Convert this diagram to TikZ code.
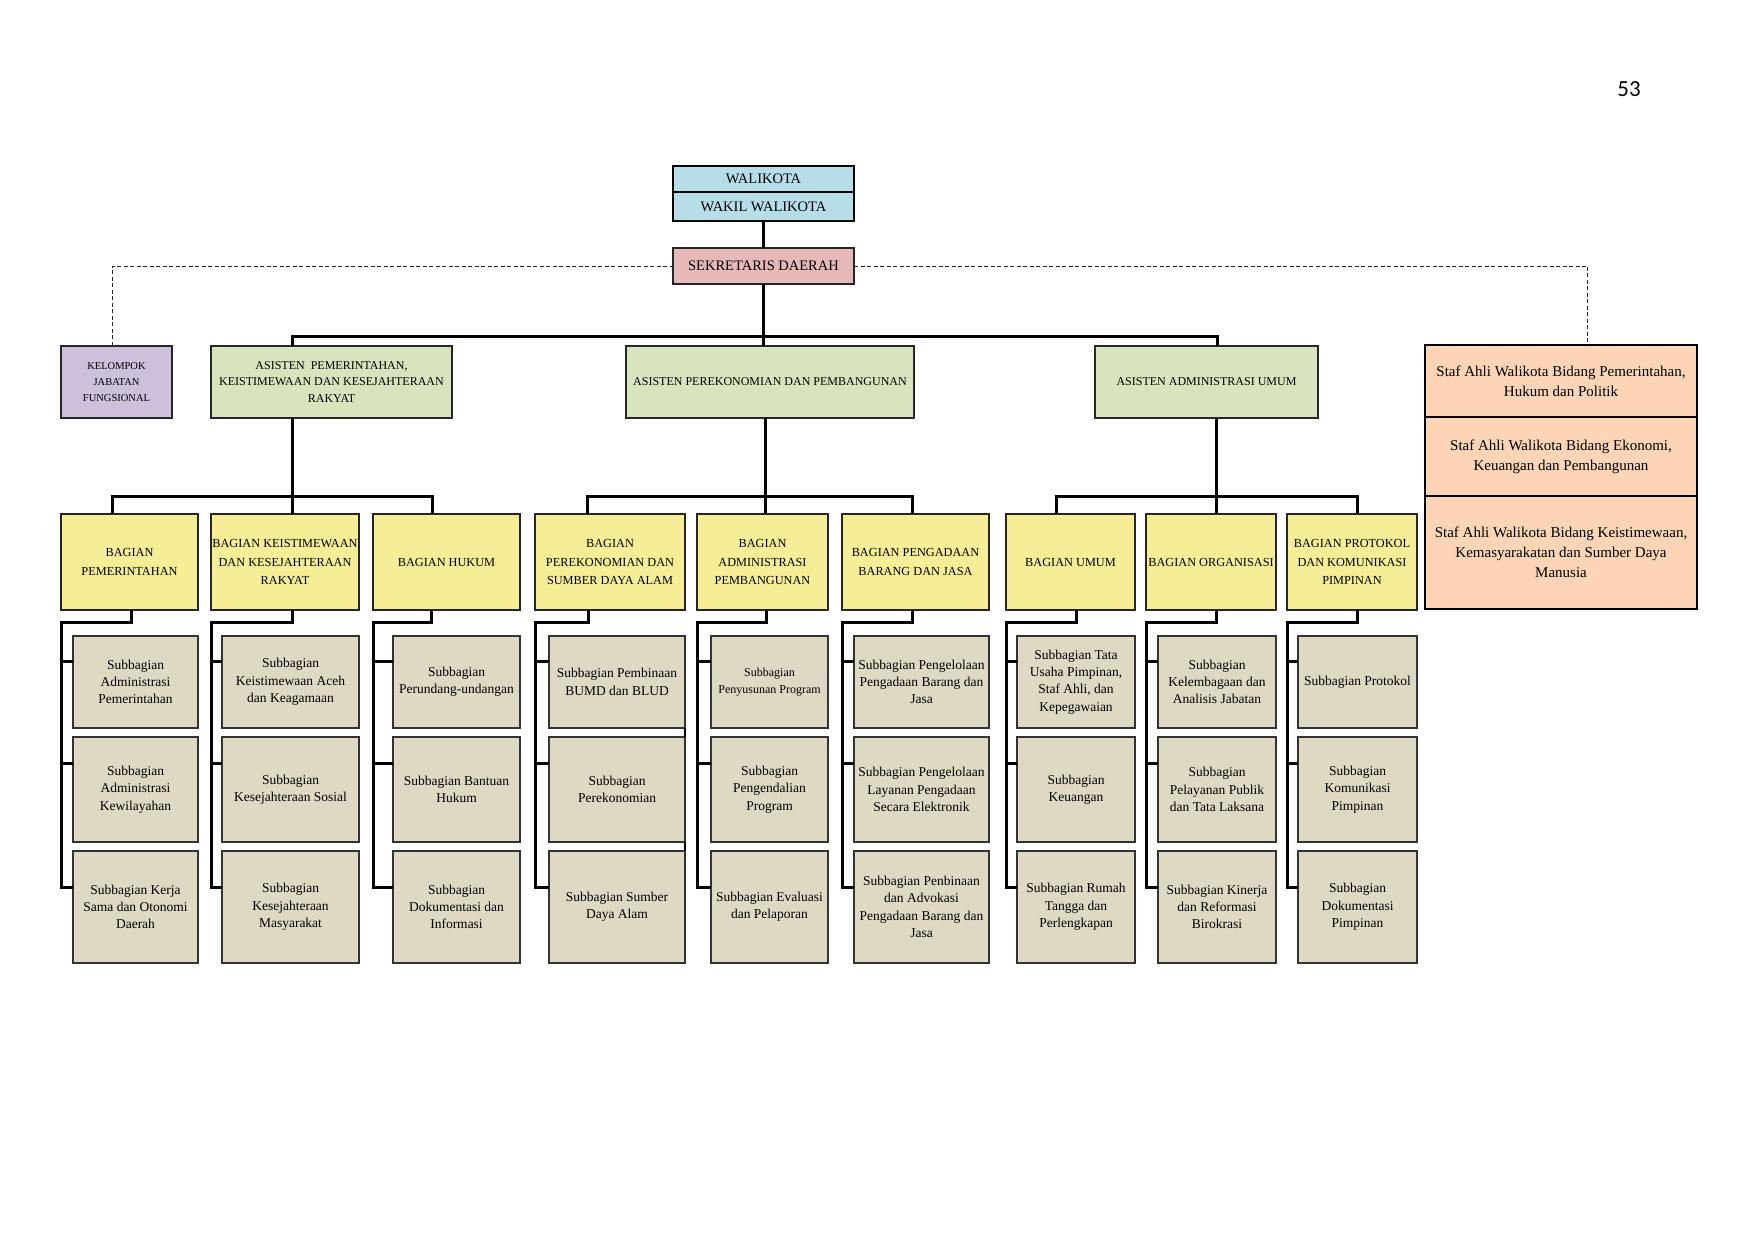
\documentclass[tikz,border=0pt]{standalone}
\usepackage{fontspec}
\setmainfont{Liberation Serif}
\newfontfamily\numfont{Carlito}
\newcommand\myfs[2]{\fontsize{#1}{#2}\selectfont}
\definecolor{cblue}{RGB}{183,221,232}
\definecolor{cpink}{RGB}{230,185,184}
\definecolor{clav}{RGB}{204,192,218}
\definecolor{cgreen}{RGB}{215,228,189}
\definecolor{cyellow}{RGB}{246,238,150}
\definecolor{csub}{RGB}{221,217,195}
\definecolor{cpeach}{RGB}{251,213,181}
\tikzset{
  base/.style={align=center, inner sep=1pt, outer sep=0pt},
  topbox/.style={base, draw=black, fill=cblue, line width=2.4pt, font=\myfs{14.5}{17}},
  sekbox/.style={base, draw=black!85, fill=cpink, line width=1.8pt, font=\myfs{14.5}{17}},
  kjfbox/.style={base, draw=black!85, fill=clav, line width=1.6pt, font=\myfs{10.5}{16}},
  asbox/.style={base, draw=black!85, fill=cgreen, line width=1.6pt, font=\myfs{12}{16.7}},
  bagbox/.style={base, draw=black!85, fill=cyellow, line width=1.6pt, font=\myfs{12.3}{18.6}},
  subbox/.style={base, draw=black!80, fill=csub, line width=1.5pt, font=\myfs{13.5}{17.3}},
  stafbox/.style={base, draw=black, fill=cpeach, line width=2.4pt, font=\myfs{15}{20}},
  conn/.style={line width=3pt, black, line join=miter},
  dashline/.style={line width=0.9pt, black!85, dash pattern=on 4pt off 2.5pt}
}
% #1 style, #2 name, #3 x1, #4 y1, #5 x2, #6 y2, #7 text
\newcommand\obox[7]{\node[#1, minimum width=#5pt-#3pt, minimum height=#6pt-#4pt] (#2) at ({(#3+#5)/2},{(#4+#6)/2}) {#7};}
% #1 bagian, #2 x of down connector, #3 #4 #5 sub boxes
\newcommand\grp[5]{%
  \coordinate (#1d) at (#2,622.7);
  \coordinate (#3b) at ([yshift=-25.7pt]#3.north west);
  \coordinate (#4b) at ([yshift=-26.3pt]#4.north west);
  \coordinate (#5b) at ([yshift=-36.3pt]#5.north west);
  \draw[conn] (#1.south -| #1d) -- (#1d) -- (#1d -| #1.west) -- (#5b -| #1.west) -- (#5b);
  \draw[conn] (#3b -| #1.west) -- (#3b);
  \draw[conn] (#4b -| #1.west) -- (#4b);
}
\begin{document}
\begin{tikzpicture}[x=1pt,y=-1pt]
\fill[white] (0,0) rectangle (1754,1241);
\useasboundingbox (0,0) rectangle (1754,1241);

\node[font=\numfont\myfs{23}{26}] (pg) at (1629,89) {53};

% top
\obox{topbox}{wali}{673}{166}{854}{192}{WALIKOTA}
\obox{topbox}{wakil}{673}{192}{854}{221}{WAKIL WALIKOTA}
\obox{sekbox}{sekda}{673}{248}{854}{284}{SEKRETARIS DAERAH}

% level asisten
\obox{kjfbox}{kjf}{61}{346}{172}{418}{KELOMPOK\\JABATAN\\FUNGSIONAL}
\obox{asbox}{as1}{211}{346}{452}{418}{ASISTEN~ PEMERINTAHAN,\\KEISTIMEWAAN DAN KESEJAHTERAAN\\RAKYAT}
\obox{asbox}{as2}{626}{346}{914}{418}{ASISTEN PEREKONOMIAN DAN PEMBANGUNAN}
\obox{asbox}{as3}{1095}{346}{1318}{418}{ASISTEN ADMINISTRASI UMUM}

% staf ahli
\obox{stafbox}{staf1}{1425}{345}{1697}{417}{Staf Ahli Walikota Bidang Pemerintahan,\\Hukum dan Politik}
\obox{stafbox}{staf2}{1425}{417}{1697}{496}{Staf Ahli Walikota Bidang Ekonomi,\\Keuangan dan Pembangunan}
\obox{stafbox}{staf3}{1425}{496}{1697}{609}{Staf Ahli Walikota Bidang Keistimewaan,\\Kemasyarakatan dan Sumber Daya\\Manusia}

% bagian
\obox{bagbox}{b1}{61}{514}{198}{610}{BAGIAN\\PEMERINTAHAN}
\obox{bagbox}{b2}{211}{514}{359}{610}{BAGIAN KEISTIMEWAAN\\DAN KESEJAHTERAAN\\RAKYAT}
\obox{bagbox}{b3}{373}{514}{520}{610}{BAGIAN HUKUM}
\obox{bagbox}{b4}{535}{514}{685}{610}{BAGIAN\\PEREKONOMIAN DAN\\SUMBER DAYA ALAM}
\obox{bagbox}{b5}{697}{514}{828}{610}{BAGIAN\\ADMINISTRASI\\PEMBANGUNAN}
\obox{bagbox}{b6}{842}{514}{989}{610}{BAGIAN PENGADAAN\\BARANG DAN JASA}
\obox{bagbox}{b7}{1006}{514}{1135}{610}{BAGIAN UMUM}
\obox{bagbox}{b8}{1146}{514}{1276}{610}{BAGIAN ORGANISASI}
\obox{bagbox}{b9}{1287}{514}{1417}{610}{BAGIAN PROTOKOL\\DAN KOMUNIKASI\\PIMPINAN}

% subbagian
\obox{subbox}{c11}{73}{636}{198}{728}{Subbagian\\Administrasi\\Pemerintahan}
\obox{subbox}{c12}{73}{737}{198}{842}{Subbagian\\Administrasi\\Kewilayahan}
\obox{subbox}{c13}{73}{851}{198}{963}{Subbagian Kerja\\Sama dan Otonomi\\Daerah}

\obox{subbox}{c21}{222}{636}{359}{728}{Subbagian\\Keistimewaan Aceh\\dan Keagamaan}
\obox{subbox}{c22}{222}{737}{359}{842}{Subbagian\\Kesejahteraan Sosial}
\obox{subbox}{c23}{222}{851}{359}{963}{Subbagian\\Kesejahteraan\\Masyarakat}

\obox{subbox}{c31}{393}{636}{520}{728}{Subbagian\\Perundang-undangan}
\obox{subbox}{c32}{393}{737}{520}{842}{Subbagian Bantuan\\Hukum}
\obox{subbox}{c33}{393}{851}{520}{963}{Subbagian\\Dokumentasi dan\\Informasi}

\obox{subbox}{c41}{549}{636}{685}{728}{Subbagian Pembinaan\\BUMD dan BLUD}
\obox{subbox}{c42}{549}{737}{685}{842}{Subbagian\\Perekonomian}
\obox{subbox}{c43}{549}{851}{685}{963}{Subbagian Sumber\\Daya Alam}

\obox{subbox, font=\myfs{12}{17}}{c51}{711}{636}{828}{728}{Subbagian\\Penyusunan Program}
\obox{subbox}{c52}{711}{737}{828}{842}{Subbagian\\Pengendalian\\Program}
\obox{subbox}{c53}{711}{851}{828}{963}{Subbagian Evaluasi\\dan Pelaporan}

\obox{subbox}{c61}{854}{636}{989}{728}{Subbagian Pengelolaan\\Pengadaan Barang dan\\Jasa}
\obox{subbox}{c62}{854}{737}{989}{842}{Subbagian Pengelolaan\\Layanan Pengadaan\\Secara Elektronik}
\obox{subbox}{c63}{854}{851}{989}{963}{Subbagian Penbinaan\\dan Advokasi\\Pengadaan Barang dan\\Jasa}

\obox{subbox}{c71}{1017}{636}{1135}{728}{Subbagian Tata\\Usaha Pimpinan,\\Staf Ahli, dan\\Kepegawaian}
\obox{subbox}{c72}{1017}{737}{1135}{842}{Subbagian\\Keuangan}
\obox{subbox}{c73}{1017}{851}{1135}{963}{Subbagian Rumah\\Tangga dan\\Perlengkapan}

\obox{subbox}{c81}{1158}{636}{1276}{728}{Subbagian\\Kelembagaan dan\\Analisis Jabatan}
\obox{subbox}{c82}{1158}{737}{1276}{842}{Subbagian\\Pelayanan Publik\\dan Tata Laksana}
\obox{subbox}{c83}{1158}{851}{1276}{963}{Subbagian Kinerja\\dan Reformasi\\Birokrasi}

\obox{subbox}{c91}{1298}{636}{1417}{728}{Subbagian Protokol}
\obox{subbox}{c92}{1298}{737}{1417}{842}{Subbagian\\Komunikasi\\Pimpinan}
\obox{subbox}{c93}{1298}{851}{1417}{963}{Subbagian\\Dokumentasi\\Pimpinan}

% connectors top
\draw[conn] (wakil.south) -- (sekda.north);
\draw[conn] (sekda.south) -- (as2.north -| sekda.south);
\coordinate (La) at (292.5,336.5);
\coordinate (Lc) at (1217,336.5);
\draw[conn] (as1.north -| La) -- (La) -- (Lc) -- (as3.north -| Lc);

% dashed
\coordinate (dL) at (112.7,266.7);
\coordinate (dR) at (1587.7,266.7);
\draw[dashline] (kjf.north -| dL) |- (sekda.west);
\draw[dashline] (sekda.east) -| (staf1.north -| dR);

% asisten to bagian
\coordinate (t1a) at (112,496);
\coordinate (t1b) at (292.5,496);
\coordinate (t1c) at (432,496);
\draw[conn] (b1.north -| t1a) -- (t1a) -- (t1c) -- (b3.north -| t1c);
\draw[conn] (as1.south -| t1b) -- (b2.north -| t1b);

\coordinate (t2a) at (587.5,496);
\coordinate (t2b) at (765.5,496);
\coordinate (t2c) at (912.7,496);
\draw[conn] (b4.north -| t2a) -- (t2a) -- (t2c) -- (b6.north -| t2c);
\draw[conn] (as2.south -| t2b) -- (b5.north -| t2b);

\coordinate (t3a) at (1056,496);
\coordinate (t3b) at (1216.7,496);
\coordinate (t3c) at (1357.7,496);
\draw[conn] (b7.north -| t3a) -- (t3a) -- (t3c) -- (b9.north -| t3c);
\draw[conn] (as3.south -| t3b) -- (b8.north -| t3b);

% bagian to subbagian
\grp{b1}{131}{c11}{c12}{c13}
\grp{b2}{292.7}{c21}{c22}{c23}
\grp{b3}{431.7}{c31}{c32}{c33}
\grp{b4}{588.3}{c41}{c42}{c43}
\grp{b5}{766}{c51}{c52}{c53}
\grp{b6}{912.7}{c61}{c62}{c63}
\grp{b7}{1076}{c71}{c72}{c73}
\grp{b8}{1216.7}{c81}{c82}{c83}
\grp{b9}{1357.7}{c91}{c92}{c93}

% small stubs on the right of column 4
\draw[line width=2pt] (c41.south east) -- (c42.north east);
\draw[line width=2pt] (c42.south east) -- (c43.north east);
\end{tikzpicture}
\end{document}
